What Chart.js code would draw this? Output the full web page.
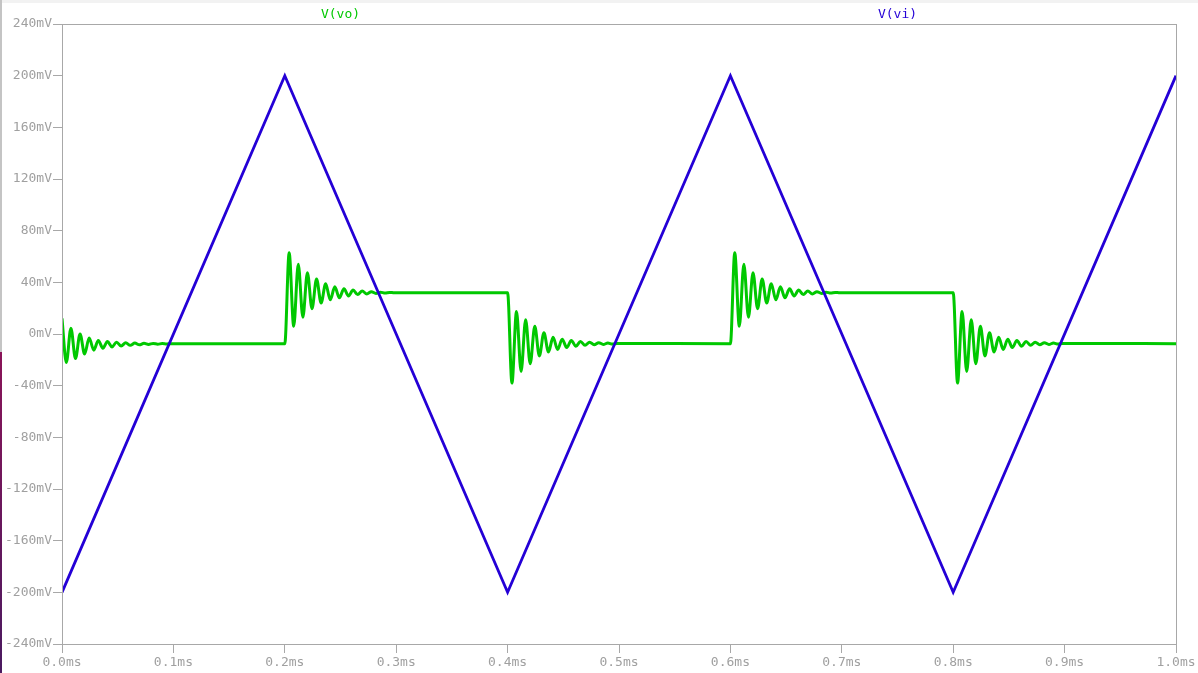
<!DOCTYPE html>
<html>
<head>
<meta charset="utf-8">
<script src="https://cdn.jsdelivr.net/npm/chart.js@4.4.1/dist/chart.umd.min.js"></script>
<style>
  html, body { margin: 0; padding: 0; background: #ffffff; }
  #wrap { position: relative; width: 1198px; height: 673px; overflow: hidden; }
  #topStrip { position: absolute; left: 0; top: 0; width: 1198px; height: 3px; background: #f2f2f2; }
  #edgeTop { position: absolute; left: 0; top: 0; width: 2px; height: 352px; background: #c4c4c4; }
  #edgeBottom { position: absolute; left: 0; top: 352px; width: 2px; height: 321px; background: linear-gradient(#8a1458, #4a1a60); }
  canvas { position: absolute; left: 0; top: 0; }
</style>
</head>
<body>
<div id="wrap">
  <canvas id="plot" width="1198" height="673"></canvas>
  <div id="topStrip"></div>
  <div id="edgeTop"></div>
  <div id="edgeBottom"></div>
</div>
<script>
"use strict";

// Tick labels of both axes
const timeTicksMs = [0, 0.1, 0.2, 0.3, 0.4, 0.5, 0.6, 0.7, 0.8, 0.9, 1.0];
const voltTicksMv = [-240, -200, -160, -120, -80, -40, 0, 40, 80, 120, 160, 200, 240];

// V(vi): triangle wave corners (ms, mV)
const viTimesMs = [0, 0.2, 0.4, 0.6, 0.8, 1.0];
const viValuesMv = [-200, 200, -200, 200, -200, 200];

// V(vo): ringing after every edge
const voStartValueMv = 12;
const voStepTimesMs = [0, 0.2, 0.4, 0.6, 0.8];
const voSettledMv = [-7.5, 32, -7.5, 32, -7.5];
// time of each peak / trough after the edge, in microseconds
const ringOffsetsUs = [3.9, 8.0, 12.1, 16.2, 20.3, 24.4, 28.5, 32.6, 36.7, 40.8, 44.9, 49.0,
                       53.1, 57.2, 61.3, 65.4, 69.5, 73.6, 77.7, 81.8, 85.9, 90.0, 94.1, 98.2];
const startRingMv = [-22, 4.5, -19, 0, -15.5, -3, -12.5, -5, -11, -5.8, -10, -6.3,
                     -9.3, -6.8, -8.8, -7, -8.4, -7.2, -8.1, -7.3, -7.9, -7.4, -7.7, -7.5];
const upRingMv = [63, 6, 54, 13, 47.5, 19.5, 42.5, 24, 39, 26.5, 36.5, 28,
                  35, 29.5, 34, 30.5, 33.3, 31, 32.8, 31.4, 32.4, 31.7, 32.2, 31.9];
const downRingMv = [-38, 17.5, -29, 11, -23, 6, -17, 1, -14, -2.5, -12, -4,
                    -10.5, -5, -9.5, -5.8, -8.8, -6.3, -8.4, -6.7, -8.1, -7, -7.8, -7.3];
const voRings = [startRingMv, upRingMv, downRingMv, upRingMv, downRingMv];

const axisGray = "#a8a8a8";
const labelGray = "#a0a0a0";
const greenTrace = "rgb(0, 200, 0)";
const blueTrace = "rgb(36, 0, 214)";

// build point lists
const viPoints = viTimesMs.map(function (t, i) {
    return { x: t, y: viValuesMv[i] };
});

const voPoints = [{ x: 0, y: voStartValueMv }];
voStepTimesMs.forEach(function (ts, i) {
    if (i > 0) {
        voPoints.push({ x: ts, y: voSettledMv[i - 1] });
    }
    voRings[i].forEach(function (v, j) {
        voPoints.push({ x: ts + ringOffsetsUs[j] / 1000, y: v });
    });
    const nextTs = i + 1 < voStepTimesMs.length ? voStepTimesMs[i + 1] : 1.0;
    voPoints.push({ x: nextTs, y: voSettledMv[i] });
});

// frame around the plot area plus the trace names on top
const framePlugin = {
    id: "frame",
    afterDraw(chart) {
        const ctx = chart.ctx;
        const a = chart.chartArea;
        ctx.save();
        ctx.strokeStyle = axisGray;
        ctx.lineWidth = 1;
        ctx.strokeRect(Math.round(a.left) + 0.5, Math.round(a.top) + 0.5,
            Math.round(a.right - a.left), Math.round(a.bottom - a.top));
        ctx.font = "13px 'DejaVu Sans Mono'";
        ctx.textAlign = "center";
        ctx.textBaseline = "middle";
        const w = a.right - a.left;
        ctx.fillStyle = greenTrace;
        ctx.fillText("V(vo)", a.left + w * 0.25, 15);
        ctx.fillStyle = blueTrace;
        ctx.fillText("V(vi)", a.left + w * 0.75, 15);
        ctx.restore();
    }
};

new Chart(document.getElementById("plot"), {
    type: "line",
    data: {
        datasets: [
            {
                label: "V(vi)",
                data: viPoints,
                borderColor: blueTrace,
                borderWidth: 2.8,
                pointRadius: 0,
                tension: 0
            },
            {
                label: "V(vo)",
                data: voPoints,
                borderColor: greenTrace,
                borderWidth: 3,
                pointRadius: 0,
                cubicInterpolationMode: "monotone"
            }
        ]
    },
    options: {
        responsive: false,
        animation: false,
        layout: { padding: { left: 0, right: 22, top: 24, bottom: 0 } },
        plugins: {
            legend: { display: false },
            tooltip: { enabled: false }
        },
        scales: {
            x: {
                type: "linear",
                min: 0,
                max: 1.0,
                afterBuildTicks(scale) {
                    scale.ticks = timeTicksMs.map(function (v) { return { value: v }; });
                },
                afterFit(scale) { scale.height = 29; },
                grid: {
                    drawOnChartArea: false,
                    drawTicks: true,
                    tickLength: 9,
                    color: axisGray
                },
                border: { display: false },
                ticks: {
                    color: labelGray,
                    padding: 2,
                    maxRotation: 0,
                    autoSkip: false,
                    font: { family: "'DejaVu Sans Mono'", size: 13 },
                    callback: function (v) { return v.toFixed(1) + "ms"; }
                }
            },
            y: {
                type: "linear",
                min: -240,
                max: 240,
                afterBuildTicks(scale) {
                    scale.ticks = voltTicksMv.map(function (v) { return { value: v }; });
                },
                afterFit(scale) { scale.width = 62; },
                grid: {
                    drawOnChartArea: false,
                    drawTicks: true,
                    tickLength: 9,
                    color: axisGray
                },
                border: { display: false },
                ticks: {
                    color: labelGray,
                    padding: 1,
                    autoSkip: false,
                    font: { family: "'DejaVu Sans Mono'", size: 13 },
                    callback: function (v) { return v + "mV"; }
                }
            }
        }
    },
    plugins: [framePlugin]
});
</script>
</body>
</html>
